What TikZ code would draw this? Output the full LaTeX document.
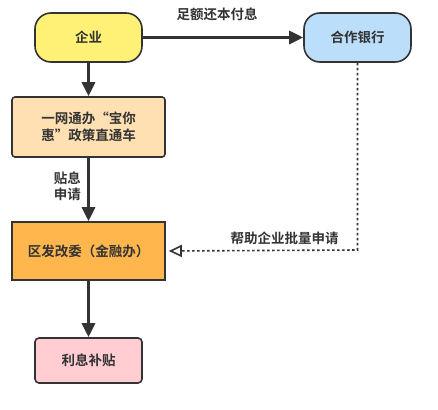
\documentclass[tikz,border=0pt]{standalone}
\usepackage{fontspec}
\setmainfont{Noto Sans CJK SC}[BoldFont={Noto Sans CJK SC Bold}]
\usetikzlibrary{arrows.meta}
\definecolor{ink}{HTML}{333333}
\definecolor{cyellow}{HTML}{FFF176}
\definecolor{cblue}{HTML}{BBDEFB}
\definecolor{clorange}{HTML}{FFE0B2}
\definecolor{corange}{HTML}{FFB74D}
\definecolor{cpink}{HTML}{FFCDD2}
\newcommand{\myopenq}{\makebox[13.5pt][r]{“}}
\newcommand{\myclosq}{\makebox[13.5pt][l]{”}}
\tikzset{
  box/.style={draw=ink, line width=1.6pt, text=ink, font=\bfseries\fontsize{13.5}{17}\selectfont, align=center, inner sep=0pt, anchor=center},
  lbl/.style={text=ink, font=\bfseries\fontsize{13.5}{16}\selectfont, align=center, inner sep=0pt},
  solidarrow/.style={draw=ink, line width=3pt, -{Triangle[length=14pt,width=13pt]}},
  dotarrow/.style={draw=ink, line width=1.6pt, dash pattern=on 2.5pt off 2.5pt, -{Triangle[open,length=13pt,width=12pt,line width=1.6pt]}},
}
\begin{document}
\begin{tikzpicture}[x=1pt,y=-1pt]
\useasboundingbox (0,0) rectangle (438,409);
\node[box, fill=cyellow, minimum width=107pt, minimum height=49pt, rounded corners=16pt] (qy) at (88.5,37.5) {企业};
\node[box, fill=cblue, minimum width=107pt, minimum height=49pt, rounded corners=16pt] (yh) at (357.5,37.5) {合作银行};
\node[box, fill=clorange, minimum width=153pt, minimum height=60pt, rounded corners=3pt] (ywt) at (88.5,127) {一网通办\myopenq 宝你\\惠\myclosq 政策直通车};
\node[box, fill=corange, minimum width=153pt, minimum height=58pt] (fgw) at (88.5,251) {区发改委（金融办）};
\node[box, fill=cpink, minimum width=107pt, minimum height=45pt, rounded corners=4pt] (lx) at (88.5,360.5) {利息补贴};
\coordinate (corner) at (357.5,250);
\draw[solidarrow] (qy) -- (yh);
\node[lbl] (l1) at (217,14) {足额还本付息};
\draw[solidarrow] (qy) -- (ywt);
\draw[solidarrow] (ywt) -- (fgw);
\node[lbl, anchor=east, align=right] (l2) at (81,186) {贴息\\申请};
\draw[solidarrow] (fgw) -- (lx);
\draw[dotarrow] (yh.south) -- (corner) -- ([xshift=3pt]fgw.east);
\node[lbl] (l3) at (284.5,238) {帮助企业批量申请};
\end{tikzpicture}
\end{document}
